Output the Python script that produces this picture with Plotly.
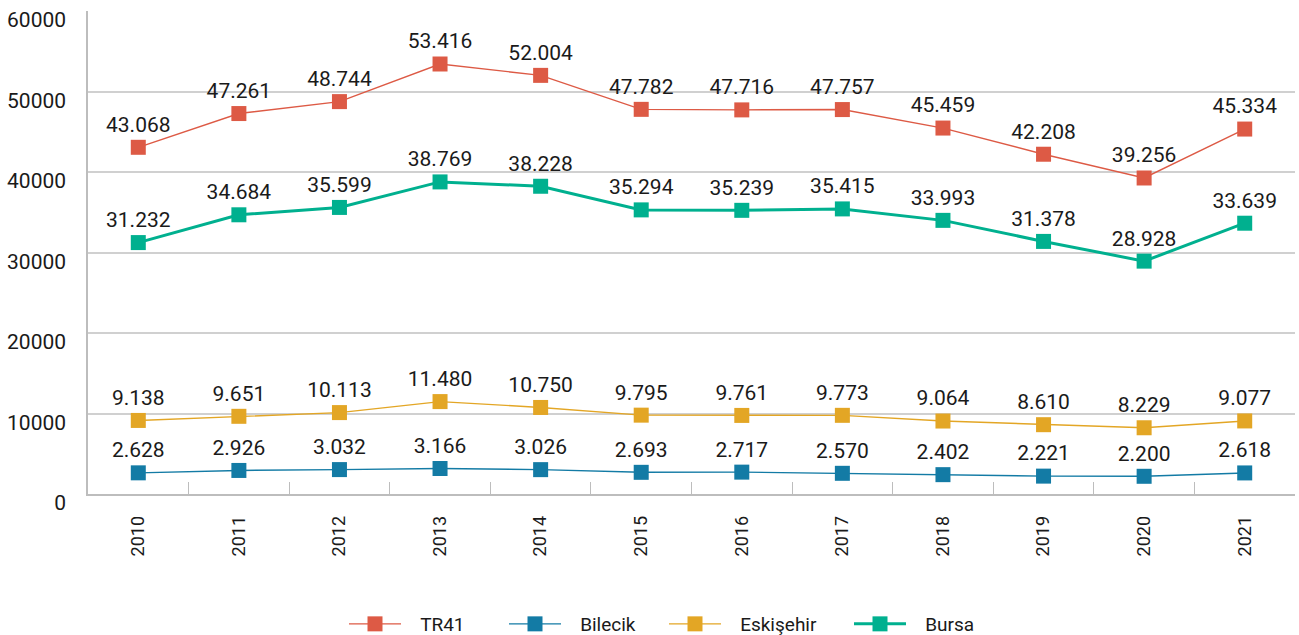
import plotly.graph_objects as go

years = [str(y) for y in range(2010, 2022)]

tr41 = [43068, 47261, 48744, 53416, 52004, 47782, 47716, 47757, 45459, 42208, 39256, 45334]
bilecik = [2628, 2926, 3032, 3166, 3026, 2693, 2717, 2570, 2402, 2221, 2200, 2618]
eskisehir = [9138, 9651, 10113, 11480, 10750, 9795, 9761, 9773, 9064, 8610, 8229, 9077]
bursa = [31232, 34684, 35599, 38769, 38228, 35294, 35239, 35415, 33993, 31378, 28928, 33639]

# name, values, colour, line width, legend id, legend left edge (px)
series = [
    ("TR41", tr41, "#dd5a45", 1.4, "legend", 344),
    ("Bilecik", bilecik, "#137ba5", 1.4, "legend2", 504),
    ("Eskişehir", eskisehir, "#e3a625", 1.4, "legend3", 664),
    ("Bursa", bursa, "#00b08f", 3, "legend4", 849),
]

FONT = "Roboto, Arial, sans-serif"
W, H = 1299, 635
PAD = "\u00a0" * 3  # push legend text away from the symbol


def tr_fmt(v):
    # Turkish thousands separator
    return f"{v:,}".replace(",", ".")


fig = go.Figure()
legends = {}
for name, vals, color, lw, leg, left in series:
    fig.add_trace(
        go.Scatter(
            x=years,
            y=vals,
            name=PAD + name,
            legend=leg,
            showlegend=True,
            mode="lines+markers+text",
            line=dict(color=color, width=lw),
            marker=dict(symbol="square", size=15, color=color),
            text=[tr_fmt(v) for v in vals],
            textposition="top center",
            textfont=dict(family=FONT, size=21, color="#1a1a1a"),
            cliponaxis=False,
            hovertemplate=name + " %{x}: %{text}<extra></extra>",
        )
    )
    legends[leg] = dict(
        orientation="h",
        xref="container",
        yref="container",
        x=left / W,
        xanchor="left",
        y=1 - 624 / H,
        yanchor="middle",
        itemwidth=52,
        font=dict(size=19, color="#1a1a1a"),
        bgcolor="rgba(0,0,0,0)",
    )

fig.update_layout(
    width=W,
    height=H,
    showlegend=True,
    plot_bgcolor="white",
    paper_bgcolor="white",
    font=dict(family=FONT, color="#1a1a1a"),
    margin=dict(l=88, r=4, t=11, b=141, autoexpand=False),
    **legends,
)
fig.update_xaxes(
    type="category",
    range=[-0.5, 11.5],
    automargin=False,
    showgrid=False,
    showline=True,
    linecolor="#bdbdbd",
    linewidth=1.5,
    ticks="inside",
    tickson="boundaries",
    ticklen=12,
    tickcolor="#bdbdbd",
    tickangle=-90,
    tickfont=dict(size=18),
    ticklabelstandoff=13,
)
fig.update_yaxes(
    range=[0, 60000],
    dtick=10000,
    automargin=False,
    showgrid=True,
    gridcolor="#d0d0d0",
    gridwidth=1.5,
    showline=True,
    linecolor="#bdbdbd",
    linewidth=1.5,
    zeroline=False,
    tickformat="d",
    tickfont=dict(size=21),
    ticklabelstandoff=16,
    ticklabelshift=9,
)

# drop the default 8px body margin so the figure sits flush in the window
fig.write_html(
    "out.html",
    config={"displayModeBar": False},
    post_script="document.body.style.margin='0';",
)
